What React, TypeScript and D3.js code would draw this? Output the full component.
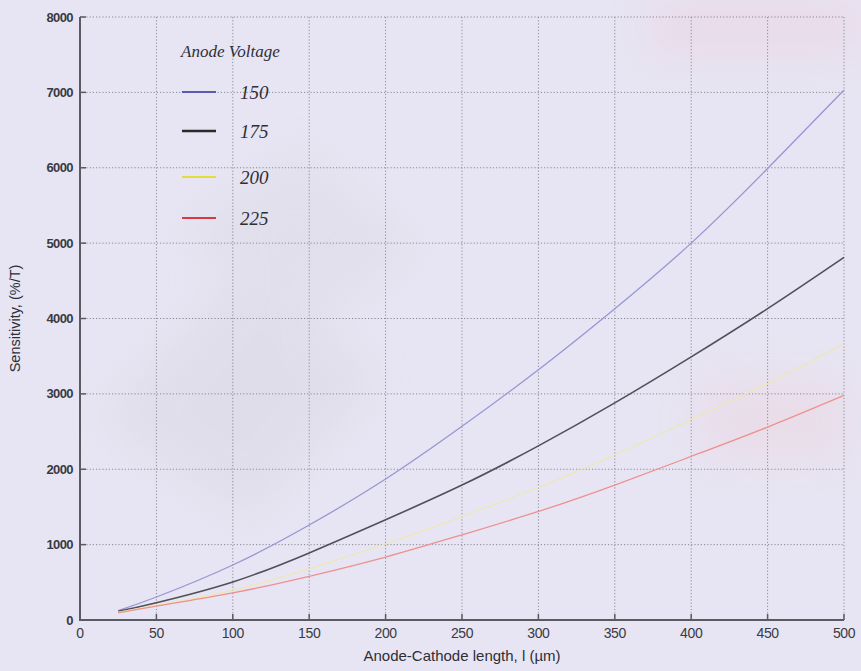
import React from "react";
import * as d3 from "d3";

// Anode-cathode length (µm) sample points
const lengths = [25, 50, 100, 150, 200, 250, 300, 350, 400, 450, 500];

// Sensitivity (%/T) for each anode voltage
const s150 = [125, 305, 730, 1260, 1870, 2570, 3320, 4130, 5000, 5990, 7030];
const s175 = [115, 230, 505, 890, 1330, 1790, 2310, 2880, 3490, 4130, 4810];
const s200 = [105, 195, 395, 680, 1010, 1370, 1760, 2190, 2660, 3140, 3660];
const s225 = [95, 185, 360, 580, 835, 1130, 1440, 1790, 2170, 2560, 2980];

const voltageLabels = ["150", "175", "200", "225"];
const curveColors = ["#9696d4", "#505058", "#efe9a0", "#ee9090"];
const legendColors = ["#5b5bb0", "#2a2a2a", "#e4dc3a", "#d83a44"];

const xTicks = [0, 50, 100, 150, 200, 250, 300, 350, 400, 450, 500];
const yTicks = [0, 1000, 2000, 3000, 4000, 5000, 6000, 7000, 8000];

const W = 861;
const H = 671;
const left = 80;
const right = 844;
const top = 17;
const bottom = 620;

export default function App() {
  const x = d3.scaleLinear().domain([0, 500]).range([left, right]);
  const y = d3.scaleLinear().domain([0, 8000]).range([bottom, top]);
  const series = [s150, s175, s200, s225];
  const line = d3
    .line<number>()
    .x((_, i) => x(lengths[i]))
    .y((d) => y(d))
    .curve(d3.curveNatural);

  const tickFont = "'Liberation Sans', Arial, sans-serif";
  const serif = "'Liberation Serif', 'Times New Roman', serif";

  return (
    <svg
      width={W}
      height={H}
      style={{ position: "absolute", left: 0, top: 0 }}
    >
      <defs>
        <filter id="soft" x="-30%" y="-30%" width="160%" height="160%">
          <feGaussianBlur stdDeviation="22" />
        </filter>
      </defs>
      <rect x={0} y={0} width={W} height={H} fill="#e7e5f3" />
      {/* faint paper shading */}
      <g filter="url(#soft)" opacity={0.35}>
        <polygon points="100,420 250,260 380,380 250,520" fill="#d2d1da" />
        <polygon points="180,230 300,150 420,250 300,330" fill="#d6d5de" />
        <rect x={650} y={0} width={211} height={55} fill="#efc6d6" />
        <rect x={700} y={380} width={150} height={80} fill="#efcdd8" />
      </g>

      {/* grid */}
      <g stroke="#8a8a92" strokeWidth={1} strokeDasharray="1.2,2" fill="none">
        {xTicks.slice(1).map((t) => (
          <line key={"gx" + t} x1={x(t)} x2={x(t)} y1={top} y2={bottom} />
        ))}
        {yTicks.slice(1).map((t) => (
          <line key={"gy" + t} x1={left} x2={right} y1={y(t)} y2={y(t)} />
        ))}
      </g>

      {/* curves */}
      {series.map((s, i) => (
        <path
          key={"c" + i}
          d={line(s) || ""}
          fill="none"
          stroke={curveColors[i]}
          strokeWidth={i === 1 ? 1.6 : i === 2 ? 1 : 1.3}
        />
      ))}

      {/* axes */}
      <line x1={left} x2={left} y1={top} y2={bottom + 1} stroke="#5a5a62" strokeWidth={2} />
      <line x1={left - 1} x2={right} y1={bottom} y2={bottom} stroke="#5a5a62" strokeWidth={2} />
      <g stroke="#5a5a62" strokeWidth={1.5}>
        {xTicks.slice(1).map((t) => (
          <line key={"tx" + t} x1={x(t)} x2={x(t)} y1={bottom} y2={bottom - 6} />
        ))}
        {yTicks.slice(1).map((t) => (
          <line key={"ty" + t} x1={left} x2={left + 6} y1={y(t)} y2={y(t)} />
        ))}
      </g>

      {/* tick labels */}
      <g fontFamily={tickFont} fontSize={13} fontWeight={700} fill="#3a3a42">
        {yTicks.map((t) => (
          <text key={"ly" + t} x={left - 7} y={y(t) + 4.5} textAnchor="end" letterSpacing={-0.6}>
            {t}
          </text>
        ))}
        {xTicks.map((t) => (
          <text key={"lx" + t} x={x(t)} y={bottom + 18} textAnchor="middle" fontWeight={400} fontSize={14} letterSpacing={-0.4}>
            {t}
          </text>
        ))}
      </g>

      {/* axis titles */}
      <text
        x={462}
        y={661}
        textAnchor="middle"
        fontFamily={tickFont}
        fontSize={15}
        fill="#2e2e36"
      >
        Anode-Cathode length, l (µm)
      </text>
      <text
        transform={`translate(20, ${y(4000)}) rotate(-90)`}
        textAnchor="middle"
        fontFamily={tickFont}
        fontSize={14.5}
        fill="#2e2e36"
      >
        Sensitivity, (%/T)
      </text>

      {/* legend */}
      <g fontFamily={serif} fontStyle="italic" fill="#2e2e36">
        <text x={181} y={57} fontSize={17}>
          Anode Voltage
        </text>
        {voltageLabels.map((v, i) => {
          const ly = [92, 131, 177, 218][i];
          return (
            <g key={"lg" + v}>
              <line x1={182} x2={216} y1={ly} y2={ly} stroke={legendColors[i]} strokeWidth={i === 1 ? 2.5 : 2} />
              <text x={240} y={ly + 7} fontSize={19}>
                {v}
              </text>
            </g>
          );
        })}
      </g>
    </svg>
  );
}
